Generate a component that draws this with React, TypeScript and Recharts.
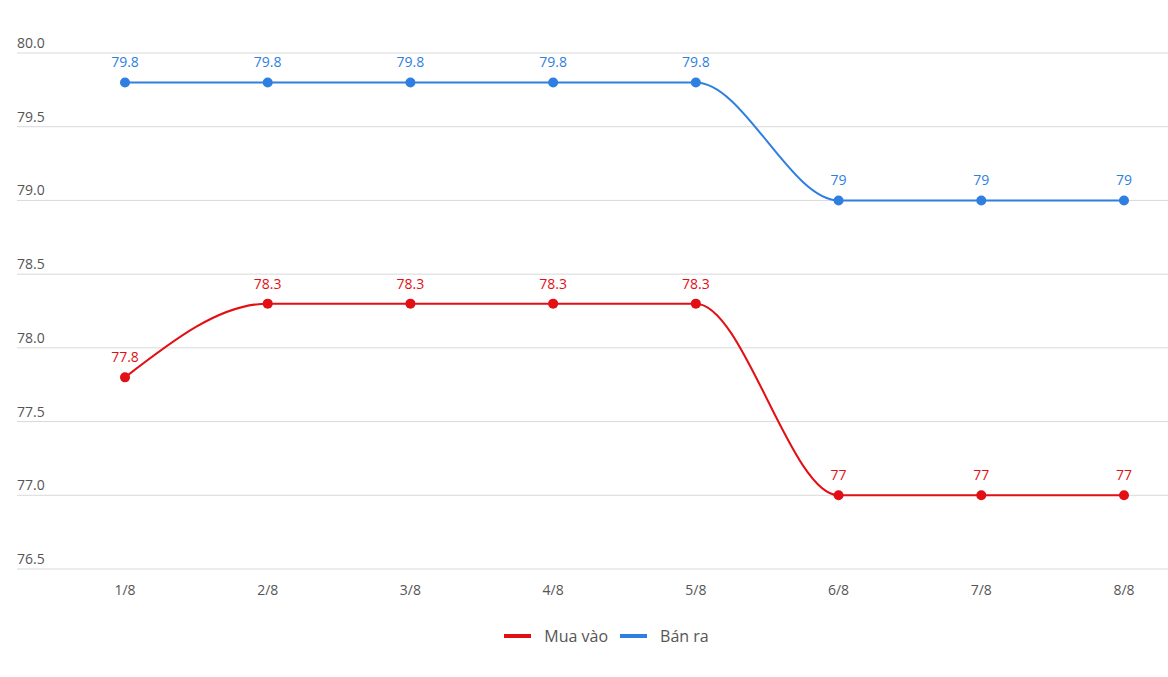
import React from 'react';
import { LineChart, Line, XAxis, YAxis, CartesianGrid, Legend, LabelList } from 'recharts';

const days = ['1/8', '2/8', '3/8', '4/8', '5/8', '6/8', '7/8', '8/8'];
const muaVao = [77.8, 78.3, 78.3, 78.3, 78.3, 77, 77, 77];
const banRa = [79.8, 79.8, 79.8, 79.8, 79.8, 79, 79, 79];
const yTicks = [76.5, 77, 77.5, 78, 78.5, 79, 79.5, 80];

const RED = '#e20f14';
const BLUE = '#2f7fe0';

const data = days.map((d, i) => ({ day: d, mua: muaVao[i], ban: banRa[i] }));

const renderYTick = ({ x, y, payload }: any) => (
  <text key={payload.value} x={x} y={y - 5} fill="#555" fontSize={14} textAnchor="start">
    {Number(payload.value).toFixed(1)}
  </text>
);

const LegendContent = () => (
  <div style={{ display: 'flex', justifyContent: 'center', gap: 12, paddingLeft: 28, fontSize: 16, color: '#555' }}>
    <div style={{ display: 'flex', alignItems: 'center', gap: 13 }}>
      <span style={{ width: 27, height: 4, background: RED, display: 'inline-block' }} />
      <span>Mua vào</span>
    </div>
    <div style={{ display: 'flex', alignItems: 'center', gap: 13 }}>
      <span style={{ width: 27, height: 4, background: BLUE, display: 'inline-block' }} />
      <span>Bán ra</span>
    </div>
  </div>
);

export default function App() {
  return (
    <div style={{ position: 'absolute', left: 0, top: 0, background: '#fff', fontFamily: '"Open Sans", sans-serif' }}>
      <LineChart width={1168} height={677} data={data} margin={{ top: 53, right: 0, left: 17, bottom: 56 }}>
        <CartesianGrid stroke="#d9d9d9" vertical={false} />
        <XAxis
          dataKey="day"
          axisLine={false}
          tickLine={false}
          padding={{ left: 108, right: 44 }}
          tick={{ fill: '#555', fontSize: 14 }}
          tickMargin={10}
        />
        <YAxis
          domain={[76.5, 80]}
          ticks={yTicks}
          width={1}
          mirror
          axisLine={false}
          tickLine={false}
          tickSize={0}
          tickMargin={0}
          tick={renderYTick}
          interval={0}
        />
        <Legend verticalAlign="bottom" wrapperStyle={{ bottom: 30 }} content={<LegendContent />} />
        <Line type="monotone" dataKey="mua" name="Mua vào" stroke={RED} strokeWidth={2} dot={{ r: 5, fill: RED, stroke: RED, strokeWidth: 0 }} isAnimationActive={false}>
          <LabelList dataKey="mua" position="top" offset={15} fill={RED} fontSize={14} />
        </Line>
        <Line type="monotone" dataKey="ban" name="Bán ra" stroke={BLUE} strokeWidth={2} dot={{ r: 5, fill: BLUE, stroke: BLUE, strokeWidth: 0 }} isAnimationActive={false}>
          <LabelList dataKey="ban" position="top" offset={15} fill={BLUE} fontSize={14} />
        </Line>
      </LineChart>
    </div>
  );
}
